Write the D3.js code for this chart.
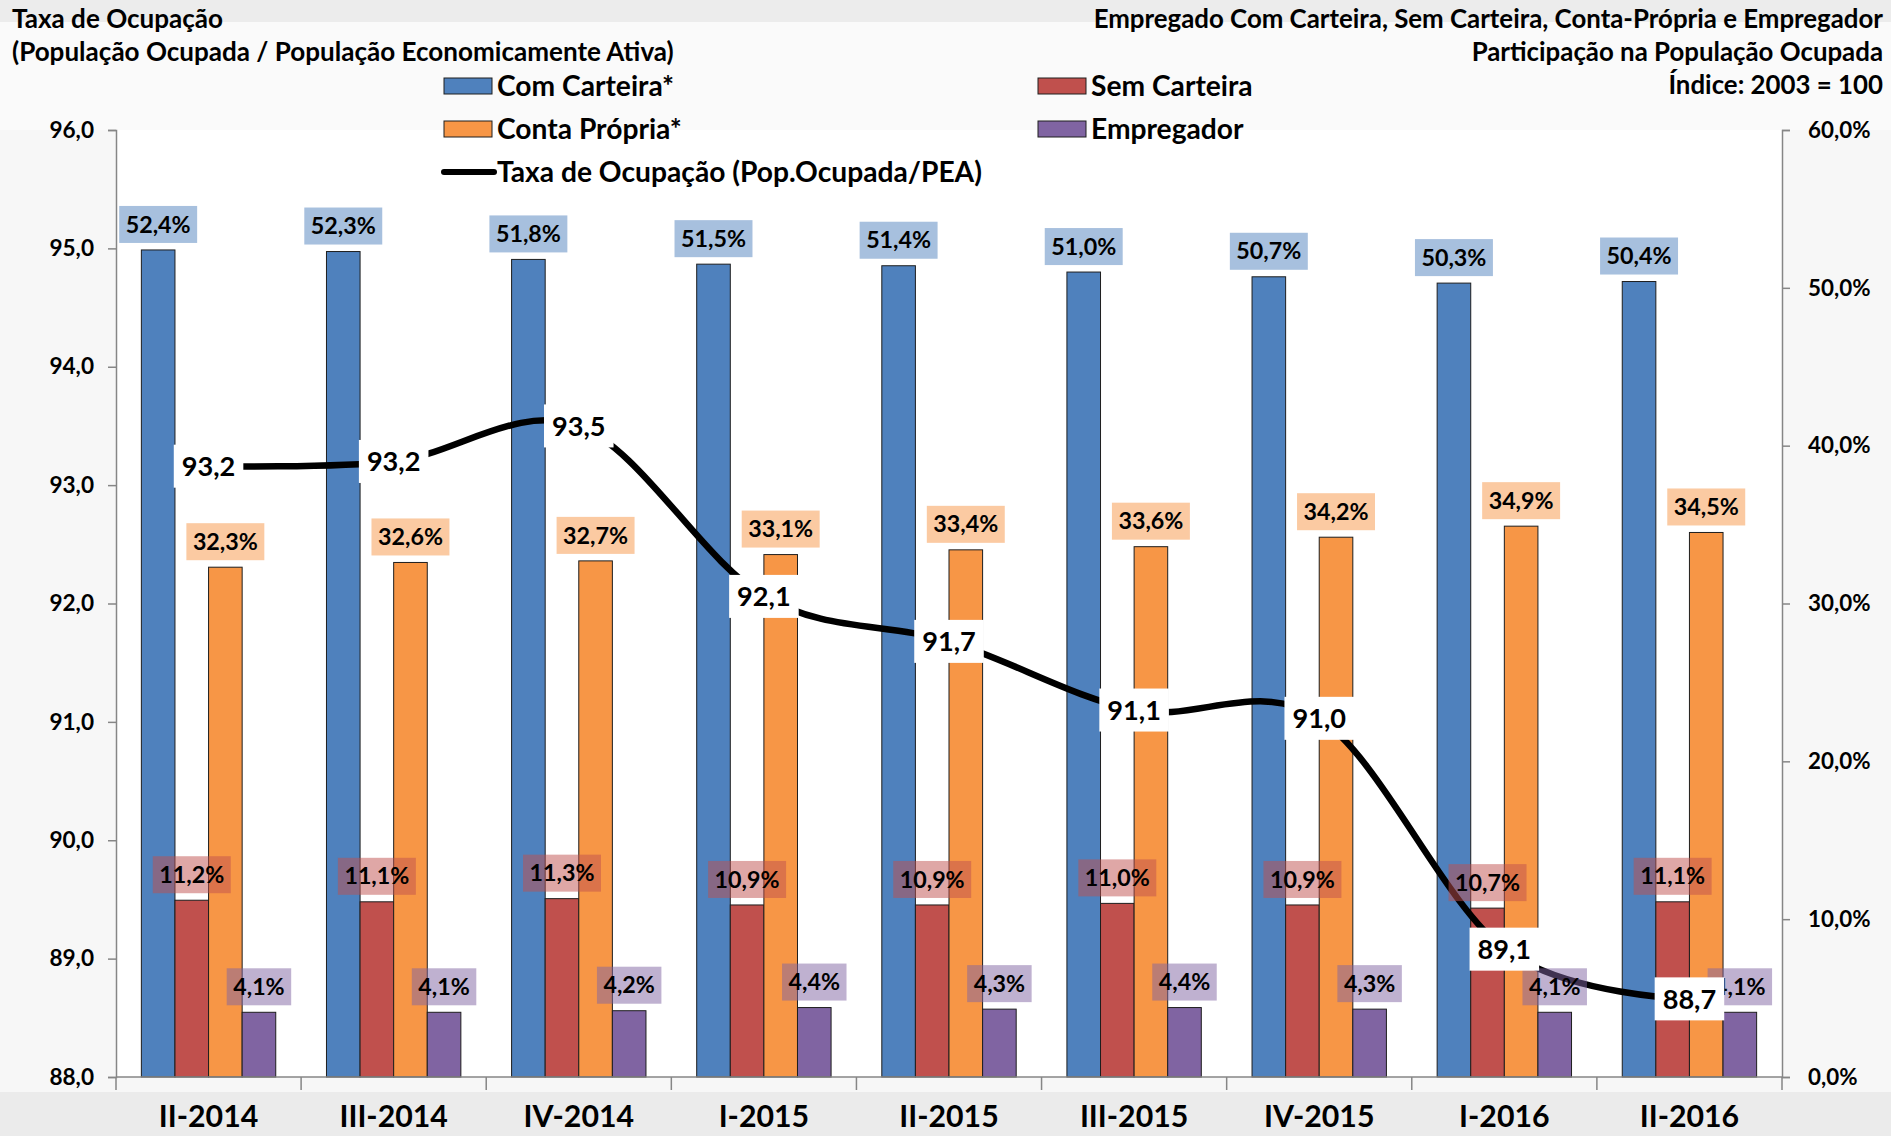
<!DOCTYPE html>
<html><head><meta charset="utf-8">
<script src="https://cdn.jsdelivr.net/npm/d3@7"></script>
<style>
html,body{margin:0;padding:0;background:#f6f6f6;}
svg{display:block;}
text{font-family:Lato,'Open Sans','Noto Sans',sans-serif;font-weight:700;fill:#000;}
</style>
</head><body>
<svg id="c" width="1891" height="1136"></svg>
<script>
// ---------- data ----------
const categories = ["II-2014","III-2014","IV-2014","I-2015","II-2015","III-2015","IV-2015","I-2016","II-2016"];
const comCarteira  = [52.4, 52.3, 51.8, 51.5, 51.4, 51.0, 50.7, 50.3, 50.4];
const semCarteira  = [11.2, 11.1, 11.3, 10.9, 10.9, 11.0, 10.9, 10.7, 11.1];
const contaPropria = [32.3, 32.6, 32.7, 33.1, 33.4, 33.6, 34.2, 34.9, 34.5];
const empregador   = [4.1, 4.1, 4.2, 4.4, 4.3, 4.4, 4.3, 4.1, 4.1];
const taxaOcupacao = [93.16, 93.2, 93.5, 92.06, 91.68, 91.1, 91.03, 89.08, 88.66];
const leftTicks  = [88, 89, 90, 91, 92, 93, 94, 95, 96];
const rightTicks = [0, 10, 20, 30, 40, 50, 60];
const seriesNames  = ["Com Carteira*", "Sem Carteira", "Conta Própria*", "Empregador"];
const seriesColors = ["#4F81BD", "#C0504D", "#F79646", "#8064A2"];
const lineName = "Taxa de Ocupação (Pop.Ocupada/PEA)";
const titleLeft  = ["Taxa de Ocupação", "(População Ocupada / População Economicamente Ativa)"];
const titleRight = ["Empregado Com Carteira, Sem Carteira, Conta-Própria e Empregador", "Participação na População Ocupada", "Índice: 2003 = 100"];

const seriesValues = [comCarteira, semCarteira, contaPropria, empregador];

// ---------- setup ----------
const W = 1891, H = 1136;
const svg = d3.select("#c");
const plot = {left: 116, right: 1782, top: 130, bottom: 1077};

function measure(str, size) {
  const t = svg.append("text").attr("font-size", size).text(str);
  const w = t.node().getComputedTextLength();
  t.remove();
  return w;
}
function fitSize(str, target) { return 40 * target / measure(str, 40); }
const fmt1 = v => v.toFixed(1).replace(".", ",");

// background
svg.append("rect").attr("width", W).attr("height", H).attr("fill", "#f7f7f7");
svg.append("rect").attr("width", W).attr("height", 22).attr("fill", "#ececec");
svg.append("rect").attr("y", 1092).attr("width", W).attr("height", H - 1092).attr("fill", "#ebebeb");
svg.append("rect").attr("x", 0).attr("y", 22).attr("width", W).attr("height", 108).attr("fill", "#fafafa");
svg.append("rect").attr("x", plot.left).attr("y", plot.top)
  .attr("width", plot.right - plot.left).attr("height", plot.bottom - plot.top).attr("fill", "#ffffff");

// scales
const x0 = d3.scaleBand().domain(categories).range([plot.left, plot.right]).paddingInner(0).paddingOuter(0);
const x1 = d3.scaleBand().domain(d3.range(4)).range([0, x0.bandwidth()]).paddingInner(0).paddingOuter(0.755);
const yL = d3.scaleLinear().domain([88, 96]).range([plot.bottom, plot.top]);
const yR = d3.scaleLinear().domain([0, 60]).range([plot.bottom, plot.top]);

// bars
const gBars = svg.append("g");
seriesValues.forEach((vals, si) => {
  gBars.selectAll(null).data(vals).join("rect")
    .attr("x", (d, i) => x0(categories[i]) + x1(si))
    .attr("y", d => yR(d))
    .attr("width", x1.bandwidth())
    .attr("height", d => yR(0) - yR(d))
    .attr("fill", seriesColors[si])
    .attr("stroke", "#1e1e1e").attr("stroke-width", 1);
});

// axes
const axisColor = "#868686";
const tickL = fitSize("96,0", 44.6);
const gL = svg.append("g").attr("transform", `translate(${plot.left},0)`)
  .call(d3.axisLeft(yL).tickValues(leftTicks).tickFormat(fmt1).tickSize(8).tickPadding(14));
gL.select(".domain").attr("stroke", axisColor).attr("stroke-width", 1.5);
gL.selectAll(".tick line").attr("stroke", axisColor).attr("stroke-width", 1.5);
gL.selectAll(".tick text").attr("font-size", tickL).attr("font-family", null).attr("fill", "#000");

const tickR = fitSize("60,0%", 62.5);
const gR = svg.append("g").attr("transform", `translate(${plot.right},0)`)
  .call(d3.axisRight(yR).tickValues(rightTicks).tickFormat(d => fmt1(d) + "%").tickSize(8).tickPadding(18));
gR.select(".domain").attr("stroke", axisColor).attr("stroke-width", 1.5);
gR.selectAll(".tick line").attr("stroke", axisColor).attr("stroke-width", 1.5);
gR.selectAll(".tick text").attr("font-size", tickR).attr("font-family", null).attr("fill", "#000");

// x axis line and ticks at category boundaries
const gX = svg.append("g");
gX.append("line").attr("x1", plot.left).attr("x2", plot.right).attr("y1", plot.bottom).attr("y2", plot.bottom)
  .attr("stroke", axisColor).attr("stroke-width", 1.5);
const bounds = categories.map(c => x0(c)).concat([x0(categories[categories.length - 1]) + x0.bandwidth()]);
gX.selectAll(".xt").data(bounds).join("line")
  .attr("x1", d => d).attr("x2", d => d).attr("y1", plot.bottom).attr("y2", plot.bottom + 13)
  .attr("stroke", axisColor).attr("stroke-width", 1.5);
const catSize = fitSize("II-2014", 99.5);
gX.selectAll(".xl").data(categories).join("text")
  .attr("x", d => x0(d) + x0.bandwidth() / 2).attr("y", 1127)
  .attr("text-anchor", "middle").attr("font-size", catSize).text(d => d);

// line
const cx = i => x0(categories[i]) + x0.bandwidth() / 2;
const line = d3.line().x((d, i) => cx(i)).y(d => yL(d)).curve(d3.curveCatmullRom.alpha(0));
svg.append("path").datum(taxaOcupacao).attr("d", line)
  .attr("fill", "none").attr("stroke", "#000").attr("stroke-width", 6.5).attr("stroke-linecap", "round");

// bar labels
const barLblSize = fitSize("52,4%", 65);
const gBL = svg.append("g");
seriesValues.forEach((vals, si) => {
  vals.forEach((v, i) => {
    const str = fmt1(v) + "%";
    const w = measure(str, barLblSize);
    const bx = x0(categories[i]) + x1(si) + x1.bandwidth() / 2;
    const bh = 37, bw = w + 13;
    const by = yR(v) - 7 - bh;
    gBL.append("rect").attr("x", bx - bw / 2).attr("y", by).attr("width", bw).attr("height", bh)
      .attr("fill", seriesColors[si]).attr("fill-opacity", 0.5);
    gBL.append("text").attr("x", bx).attr("y", by + bh / 2).attr("dy", "0.35em")
      .attr("text-anchor", "middle").attr("font-size", barLblSize).text(str);
  });
});

// line labels
const lineLblSize = fitSize("93,2", 53.6);
const gLL = svg.append("g");
taxaOcupacao.forEach((v, i) => {
  const str = fmt1(v);
  const w = measure(str, lineLblSize);
  const bw = w + 16, bh = 43;
  const px = cx(i), py = yL(v);
  gLL.append("rect").attr("x", px - bw / 2).attr("y", py - bh / 2).attr("width", bw).attr("height", bh).attr("fill", "#fff");
  gLL.append("text").attr("x", px).attr("y", py).attr("dy", "0.36em")
    .attr("text-anchor", "middle").attr("font-size", lineLblSize).text(str);
});

// legend
const legSize = fitSize(lineName, 485);
const gLeg = svg.append("g");
const legItems = [
  {name: seriesNames[0], color: seriesColors[0], x: 444, cy: 86},
  {name: seriesNames[2], color: seriesColors[2], x: 444, cy: 129},
  {name: seriesNames[1], color: seriesColors[1], x: 1038, cy: 86},
  {name: seriesNames[3], color: seriesColors[3], x: 1038, cy: 129}
];
legItems.forEach(it => {
  gLeg.append("rect").attr("x", it.x).attr("y", it.cy - 8).attr("width", 48).attr("height", 16)
    .attr("fill", it.color).attr("stroke", "#1e1e1e").attr("stroke-width", 1);
  gLeg.append("text").attr("x", it.x + 53).attr("y", it.cy).attr("dy", "0.35em")
    .attr("font-size", legSize).text(it.name);
});
gLeg.append("line").attr("x1", 444).attr("x2", 494).attr("y1", 172).attr("y2", 172)
  .attr("stroke", "#000").attr("stroke-width", 6).attr("stroke-linecap", "round");
gLeg.append("text").attr("x", 497).attr("y", 172).attr("dy", "0.35em").attr("font-size", legSize).text(lineName);

// titles
const tlSize = fitSize(titleLeft[1], 662);
svg.append("g").selectAll("text").data(titleLeft).join("text")
  .attr("x", 12).attr("y", (d, i) => 28 + i * 33).attr("font-size", tlSize).text(d => d);
const trSize = fitSize(titleRight[0], 790);
svg.append("g").selectAll("text").data(titleRight).join("text")
  .attr("x", 1883).attr("y", (d, i) => 28 + i * 33).attr("text-anchor", "end").attr("font-size", trSize).text(d => d);
</script>
</body></html>
